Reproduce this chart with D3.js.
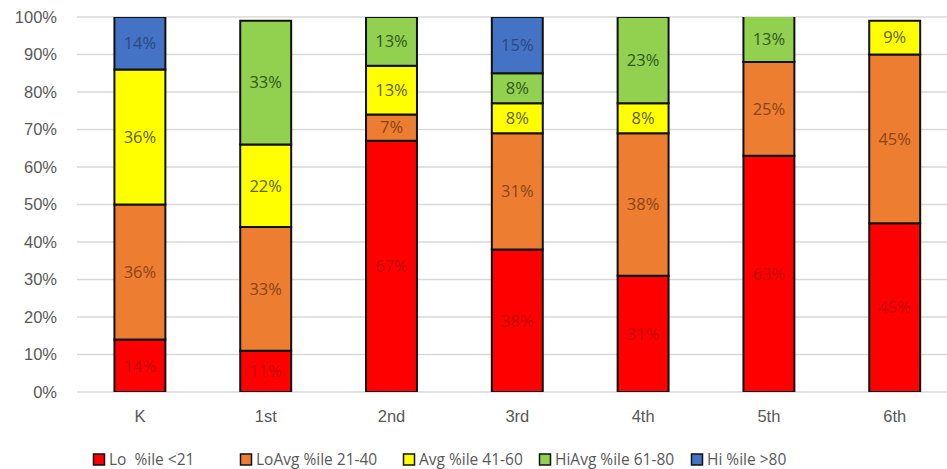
<!DOCTYPE html>
<html>
<head>
<meta charset="utf-8">
<script src="https://cdn.jsdelivr.net/npm/d3@7/dist/d3.min.js"></script>
<style>
  html, body { margin: 0; padding: 0; background: #fff; }
  svg { display: block; font-family: "Open Sans", "Noto Sans", sans-serif; }
</style>
</head>
<body>
<svg id="chart" width="947" height="469"></svg>
<script>
// Grade levels along the x axis
const grades = ["K", "1st", "2nd", "3rd", "4th", "5th", "6th"];

// Share of students in each percentile band (percent), per grade
const lo     = [14, 11, 67, 38, 31, 63, 45];
const loAvg  = [36, 33,  7, 31, 38, 25, 45];
const avg    = [36, 22, 13,  8,  8,  0,  9];
const hiAvg  = [ 0, 33, 13,  8, 23, 13,  0];
const hi     = [14,  0,  0, 15,  0,  0,  0];

const seriesNames = ["Lo\u00a0\u00a0%ile <21", "LoAvg %ile 21-40", "Avg %ile 41-60", "HiAvg %ile 61-80", "Hi %ile >80"];
const seriesKeys  = ["lo", "loAvg", "avg", "hiAvg", "hi"];
const seriesFill  = ["#ff0000", "#ed7d31", "#ffff00", "#92d050", "#4472c4"];
const seriesInk   = ["#c20a08", "#8a4516", "#5f5f10", "#2f5a1b", "#2c4a80"];

const yTicks = [0, 10, 20, 30, 40, 50, 60, 70, 80, 90, 100];

const rows = grades.map((g, i) => ({
  grade: g, lo: lo[i], loAvg: loAvg[i], avg: avg[i], hiAvg: hiAvg[i], hi: hi[i]
}));

const svg = d3.select("#chart");
const plot = { left: 77, right: 957.6, top: 17, bottom: 392 };

const x = d3.scaleBand().domain(grades).range([plot.left, plot.right]).paddingInner(0).paddingOuter(0);
const y = d3.scaleLinear().domain([0, 100]).range([plot.bottom, plot.top]);
const barW = x.bandwidth() * 0.405;

// Gridlines and y tick labels
svg.append("g").selectAll("line").data(yTicks).join("line")
  .attr("x1", plot.left).attr("x2", 947)
  .attr("y1", d => y(d)).attr("y2", d => y(d))
  .attr("stroke", "#d9d9d9").attr("stroke-width", 1.5);

const yAxis = d3.axisLeft(y).tickValues(yTicks).tickSize(0).tickPadding(0).tickFormat(d => d + "%");
const yg = svg.append("g").attr("transform", `translate(57,0)`).call(yAxis);
yg.select(".domain").remove();
yg.selectAll("text").attr("fill", "#595959").style("font-size", "16.5px");

// Category labels
const xAxis = d3.axisBottom(x).tickSize(0).tickPadding(0);
const xg = svg.append("g").attr("transform", `translate(0,${plot.bottom + 18})`).call(xAxis);
xg.select(".domain").remove();
xg.selectAll("text").attr("fill", "#595959").style("font-size", "16.5px").attr("dy", "0.71em");

// Stacked bars, clipped to the 0–100% plot range
svg.append("clipPath").attr("id", "plotClip")
  .append("rect").attr("x", 0).attr("y", plot.top).attr("width", 947).attr("height", plot.bottom - plot.top);

const stacked = d3.stack().keys(seriesKeys)(rows);
const bars = svg.append("g").attr("clip-path", "url(#plotClip)");

stacked.forEach((layer, si) => {
  bars.append("g").selectAll("rect")
    .data(layer.filter(d => d[1] - d[0] > 0))
    .join("rect")
    .attr("x", d => x(d.data.grade) + (x.bandwidth() - barW) / 2)
    .attr("width", barW)
    .attr("y", d => y(d[1]))
    .attr("height", d => y(d[0]) - y(d[1]))
    .attr("fill", seriesFill[si])
    .attr("stroke", "#111")
    .attr("stroke-width", 2);
});

// Value labels centred in each visible segment
const labels = svg.append("g");
stacked.forEach((layer, si) => {
  labels.selectAll(null)
    .data(layer.filter(d => d[1] - d[0] > 0))
    .join("text")
    .attr("x", d => x(d.data.grade) + x.bandwidth() / 2)
    .attr("y", d => y((d[0] + Math.min(d[1], 100)) / 2))
    .attr("dy", "0.35em")
    .attr("text-anchor", "middle")
    .attr("fill", seriesInk[si])
    .style("font-size", "16.5px")
    .text(d => (d[1] - d[0]) + "%");
});

// Legend
const legendX = [93, 240, 403, 539, 691];
const legend = svg.append("g").attr("transform", "translate(0,460)");
seriesNames.forEach((name, i) => {
  const g = legend.append("g").attr("transform", `translate(${legendX[i]},0)`);
  g.append("rect").attr("x", 0.5).attr("y", -6).attr("width", 11).attr("height", 11)
    .attr("fill", seriesFill[i]).attr("stroke", "#111").attr("stroke-width", 1.5);
  g.append("text").attr("x", 16).attr("y", 0).attr("dy", "0.35em")
    .attr("fill", "#595959").style("font-size", "15.5px")
    .text(name);
});
</script>
</body>
</html>
